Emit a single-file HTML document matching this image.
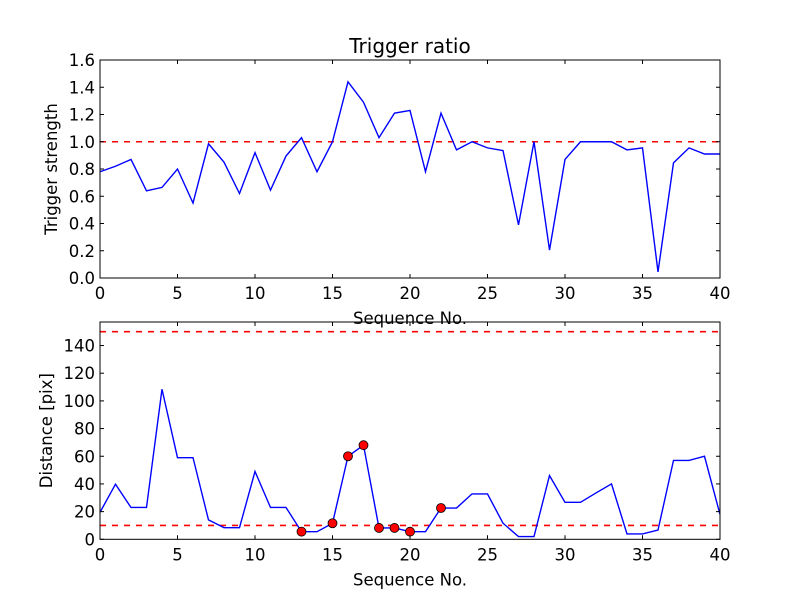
<!DOCTYPE html>
<html><head><meta charset="utf-8"><style>
body{margin:0;background:#fff}
svg text{font-family:"DejaVu Sans","Liberation Sans",sans-serif;font-size:16.5px;fill:#000}
</style></head><body>
<svg id="c" width="800" height="600" xmlns="http://www.w3.org/2000/svg">
<rect width="800" height="600" fill="#fff"/>
</svg>
<script>
const seq = [];
for (let i = 0; i <= 40; i++) seq.push(i);
const strength = [0.78,0.82,0.87,0.64,0.665,0.80,0.55,0.985,0.85,0.62,0.92,0.645,0.895,1.03,0.78,1.0,1.44,1.29,1.03,1.21,1.23,0.78,1.21,0.94,1.0,0.955,0.935,0.39,1.0,0.205,0.87,1.0,1.0,1.0,0.94,0.955,0.045,0.845,0.955,0.91,0.91];
const distance = [19.5,39.8,23,23,108.4,59,59,14,8.4,8.4,49,23,23,5.5,5.5,11.6,60,68,8.2,8.2,5.5,5.5,22.6,22.6,32.8,32.8,11.6,2,2,46,26.7,26.7,33.5,40,3.9,3.9,6.7,57,57,60,18];
const flagged = [13,15,16,17,18,19,20,22];
const xTicks = [0,5,10,15,20,25,30,35,40];
const topYTicks = [0,0.2,0.4,0.6,0.8,1.0,1.2,1.4,1.6];
const botYTicks = [0,20,40,60,80,100,120,140];
const topThreshold = [1.0];
const botThresholds = [10,150];

const svg = document.getElementById('c');
const NS = 'http://www.w3.org/2000/svg';
function mk(tag, attrs, parent){const e=document.createElementNS(NS,tag);for(const k in attrs)e.setAttribute(k,attrs[k]);(parent||svg).appendChild(e);return e;}

function panel(name, top, bottom, ymin, ymax, yTicks, yFmt, data, thresholds, ylabel, title, markers){
  const L=100,R=720;
  const xs=v=>L+(v-0)/(40-0)*(R-L);
  const ys=v=>bottom-(v-ymin)/(ymax-ymin)*(bottom-top);
  const g=mk('g',{});
  
  
  const clipId='clip-'+name;
  const cp=mk('clipPath',{id:clipId},g);mk('rect',{x:L,y:top,width:R-L,height:bottom-top},cp);
  const plot=mk('g',{'clip-path':'url(#'+clipId+')'},g);
  thresholds.forEach(t=>{
    const l=mk('line',{x1:L,x2:R,y1:ys(t),y2:ys(t),stroke:'#ff0000','stroke-width':1.6,'stroke-dasharray':'6,6'},plot);
    
    
  });
  const pts=data.map((v,i)=>xs(seq[i]).toFixed(2)+','+ys(v).toFixed(2)).join(' ');
  const pl=mk('polyline',{points:pts,fill:'none',stroke:'#0000ff','stroke-width':1.4},plot);
  
  
  if(markers){markers.forEach(i=>{
    const c=mk('circle',{cx:xs(seq[i]),cy:ys(data[i]),r:4.5,fill:'#ff0000',stroke:'#000','stroke-width':0.8},g);
    
    
  });}
  const fr=mk('rect',{x:L,y:top,width:R-L,height:bottom-top,fill:'none',stroke:'#000','stroke-width':1},g);
  
  
  xTicks.forEach(t=>{
    const x=xs(t);
    mk('line',{x1:x,x2:x,y1:bottom,y2:bottom-4,stroke:'#000'},g);
    mk('line',{x1:x,x2:x,y1:top,y2:top+4,stroke:'#000'},g);
    const tx=mk('text',{x:x,y:bottom+21,'text-anchor':'middle'},g);tx.textContent=t;
    
    
  });
  yTicks.forEach(t=>{
    const y=ys(t);
    mk('line',{x1:L,x2:L+4,y1:y,y2:y,stroke:'#000'},g);
    mk('line',{x1:R,x2:R-4,y1:y,y2:y,stroke:'#000'},g);
    const tx=mk('text',{x:L-5,y:y+6,'text-anchor':'end'},g);tx.textContent=yFmt(t);
    
    
  });
  const xl=mk('text',{x:(L+R)/2,y:bottom+46,'text-anchor':'middle'},g);xl.textContent='Sequence No.';
  
  
  const yl=mk('text',{x:0,y:0,'text-anchor':'middle',transform:'translate('+(name==='top-panel'?57:52)+','+((top+bottom)/2)+') rotate(-90)'},g);yl.textContent=ylabel;
  
  
  if(title){const tt=mk('text',{x:(L+R)/2,y:top-7,'text-anchor':'middle'},g);tt.style.fontSize='20px';tt.textContent=title;
    
    }
}
panel('top-panel',60,278,0,1.6,topYTicks,v=>v.toFixed(1),strength,topThreshold,'Trigger strength','Trigger ratio',null);
panel('bottom-panel',322,539.3,0,157,botYTicks,v=>String(v),distance,botThresholds,'Distance [pix]',null,flagged);
</script>
</body></html>
